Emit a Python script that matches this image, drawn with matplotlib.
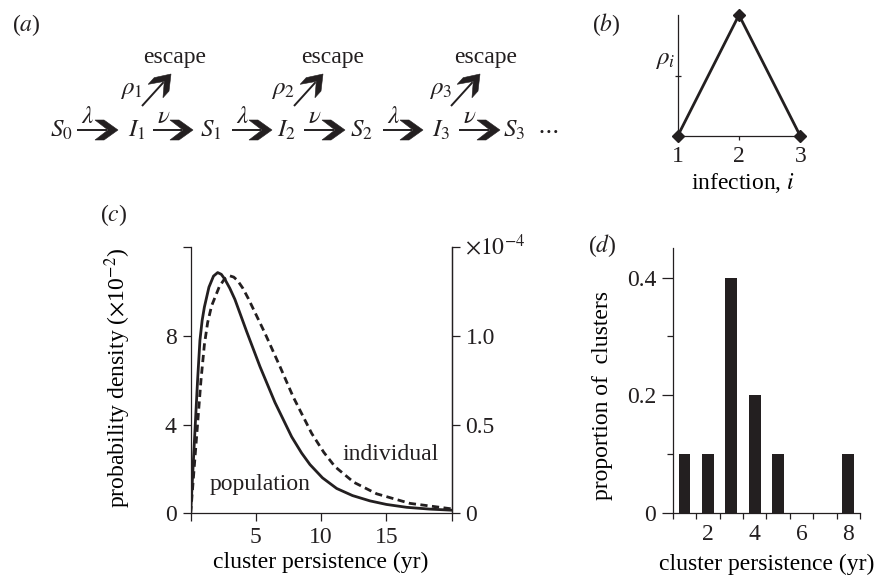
import numpy as np
import matplotlib
matplotlib.use('Agg')
import matplotlib.pyplot as plt
from matplotlib.patches import Polygon

plt.rcParams['font.family'] = ['Liberation Serif', 'DejaVu Serif']
plt.rcParams['mathtext.fontset'] = 'stix'
plt.rcParams['font.size'] = 17
INK = '#231f20'
plt.rcParams['text.color'] = INK
plt.rcParams['axes.edgecolor'] = INK
plt.rcParams['axes.linewidth'] = 0.9

# (a) chain of states and transitions
states = ['$S_0$', '$I_1$', '$S_1$', '$I_2$', '$S_2$', '$I_3$', '$S_3$']
rates = [r'$\lambda$', r'$\nu$', r'$\lambda$', r'$\nu$', r'$\lambda$', r'$\nu$']
escape_probs = [r'$\rho_1$', r'$\rho_2$', r'$\rho_3$']

# (b) escape probability by infection number
infection = [1, 2, 3]
rho = [0, 1, 0]

# (c) cluster persistence densities
pop_years = [0, 0.53, 0.71, 0.88, 1.05, 1.4, 1.75, 2.07, 2.35, 2.63, 3.0, 3.39, 4.29,
             5.31, 6.46, 7.74, 8.5, 9.14, 10.1, 11.19, 12.4, 13.74, 15.0, 16.55, 18.3, 20.0]
pop_density = [0, 6.0, 7.8, 8.7, 9.3, 10.2, 10.7, 10.86, 10.78, 10.55, 10.15, 9.65, 8.2,
               6.62, 5.0, 3.45, 2.72, 2.2, 1.6, 1.12, 0.8, 0.56, 0.4, 0.27, 0.19, 0.14]  # x1e-2
ind_years = [0, 0.79, 1.05, 1.3, 1.6, 2.2, 2.6, 3.0, 3.3, 3.6, 4.0, 4.41, 5.69, 6.84,
             7.86, 9.27, 10.2, 11.06, 12.5, 14.25, 16.8, 20.0]
ind_density = [0, 0.75, 0.95, 1.075, 1.169, 1.279, 1.322, 1.339, 1.332, 1.312, 1.269,
               1.212, 1.016, 0.828, 0.656, 0.451, 0.344, 0.263, 0.175, 0.11, 0.056, 0.025]  # x1e-4

# (d) observed cluster persistence
persist_years = [1, 2, 3, 4, 5, 8]
persist_prop = [0.1, 0.1, 0.4, 0.2, 0.1, 0.1]

fig = plt.figure(figsize=(8.75, 5.77), dpi=100)

# overlay in pixel coordinates for the diagram and panel letters
ov = fig.add_axes([0, 0, 1, 1])
ov.set_xlim(0, 875)
ov.set_ylim(577, 0)
ov.axis('off')


def arrow(x0, y0, x1, y1):
    d = np.array([x1 - x0, y1 - y0], float)
    u = d / np.hypot(*d)
    v = np.array([-u[1], u[0]])
    tip = np.array([x1, y1], float)
    head = [(0, 0), (-14, -10), (-23, -10), (-10, 0), (-23, 10), (-14, 10)]
    pts = [tip + a * u + b * v for a, b in head]
    ov.add_patch(Polygon(pts, closed=True, fc=INK, ec=INK, lw=0.4))
    end = tip - 11 * u
    ov.plot([x0, end[0]], [y0, end[1]], color=INK, lw=1.4, solid_capstyle='butt')


state_x = [50, 128, 200, 277, 350, 432, 503]
arrow_x = [(77, 118), (153, 193), (232, 272), (304, 345), (383, 423), (459, 500)]
for s, x in zip(states, state_x):
    ov.text(x, 137, s, ha='left', va='baseline', fontsize=18)
ov.text(537, 137, r'$\cdots$', ha='left', va='baseline', fontsize=17)
for r, (xa, xb) in zip(rates, arrow_x):
    arrow(xa, 130, xb, 130)
    ov.text(xa + 11, 123, r, ha='center', va='baseline', fontsize=18)

esc_start = [(142, 106), (294, 106), (451, 106)]
esc_label_x = [175, 333, 486]
for p, (xs, ys), ex in zip(escape_probs, esc_start, esc_label_x):
    arrow(xs, ys, xs + 29, ys - 32)
    ov.text(xs + 1, 94, p, ha='right', va='baseline', fontsize=18)
    ov.text(ex, 63, 'escape', ha='center', va='baseline')

ov.text(12, 25, '($a$)', ha='left', va='center')
ov.text(592, 25, '($b$)', ha='left', va='center')
ov.text(100, 215, '($c$)', ha='left', va='center')
ov.text(588, 246, '($d$)', ha='left', va='center')

# (b)
ax_b = fig.add_axes([0.7745, 0.7643, 0.1401, 0.2097])
ax_b.set_facecolor('none')
ax_b.plot(infection, rho, color=INK, lw=2.0, marker='D', ms=6, clip_on=False, zorder=3)
ax_b.set_xlim(1, 3)
ax_b.set_ylim(0, 1)
for s in ['top', 'right']:
    ax_b.spines[s].set_visible(False)
ax_b.set_xticks([1, 2, 3])
ax_b.set_yticks([0.5], [''])
ax_b.tick_params(axis='x', direction='out', length=3, width=0.9, pad=4, colors=INK)
ax_b.tick_params(axis='y', direction='inout', length=4, width=0.9, colors=INK)
ax_b.set_xlabel('infection, $i$')
ax_b.xaxis.set_label_coords(0.53, -0.29)
ax_b.text(-0.02, 0.63, r'$\rho_i$', transform=ax_b.transAxes, ha='right', va='center',
          fontsize=18)

# (c)
ax_c = fig.add_axes([0.2179, 0.1104, 0.2983, 0.4610])
ax_c.set_facecolor('none')
ax_c.plot(pop_years, pop_density, color=INK, lw=2.0)
ax_c.set_xlim(0, 20)
ax_c.set_ylim(0, 12)
ax_c.spines['top'].set_visible(False)
ax_c.set_xticks([0, 5, 10, 15, 20], ['', '5', '10', '15', ''])
ax_c.set_yticks([0, 4, 8, 12], ['0', '4', '8', ''])
ax_c.tick_params(direction='out', length=6, width=0.9, pad=4, colors=INK)
ax_c.set_ylabel(r'probability density ($\times$10$^{-2}$)')
ax_c.yaxis.set_label_coords(-0.221, 0.509)
ax_c.set_xlabel('cluster persistence (yr)')
ax_c.xaxis.set_label_coords(0.5, -0.145)
ax_c.text(5.3, 1.3, 'population', ha='center', va='center')
ax_c.text(15.3, 2.65, 'individual', ha='center', va='center')

ax_c2 = ax_c.twinx()
ax_c2.plot(ind_years, ind_density, color=INK, lw=2.0, dashes=(2.6, 1.6))
ax_c2.set_ylim(0, 1.5)
for s in ['top', 'left', 'bottom']:
    ax_c2.spines[s].set_visible(False)
ax_c2.set_yticks([0, 0.5, 1.0, 1.5], ['0', '0.5', '1.0', ''])
ax_c2.tick_params(direction='out', length=6, width=0.9, pad=4, colors=INK)
ov.text(465, 255, r'$\times10^{-4}$', ha='left', va='baseline')

# (d)
ax_d = fig.add_axes([0.7688, 0.1114, 0.2141, 0.4582])
ax_d.set_facecolor('none')
ax_d.bar(persist_years, persist_prop, width=0.5, color=INK)
ax_d.set_xlim(0.5, 8.5)
ax_d.set_ylim(0, 0.45)
for s in ['top', 'right']:
    ax_d.spines[s].set_visible(False)
ax_d.set_xticks([2, 4, 6, 8])
ax_d.set_xticks(np.arange(0.5, 8.6, 1), minor=True)
ax_d.set_yticks([0, 0.2, 0.4], ['0', '0.2', '0.4'])
ax_d.set_yticks([0.1, 0.3], minor=True)
ax_d.tick_params(axis='x', which='major', length=0, pad=8, colors=INK)
ax_d.tick_params(axis='x', which='minor', direction='out', length=4, width=0.9, colors=INK)
ax_d.tick_params(axis='y', which='major', direction='out', length=8, width=0.9, pad=4, colors=INK)
ax_d.tick_params(axis='y', which='minor', direction='out', length=4, width=0.9, colors=INK)
ax_d.set_ylabel('proportion of  clusters')
ax_d.yaxis.set_label_coords(-0.319, 0.445)
ax_d.set_xlabel('cluster persistence (yr)')
ax_d.xaxis.set_label_coords(0.5, -0.155)

fig.savefig('out.png', dpi=100)
